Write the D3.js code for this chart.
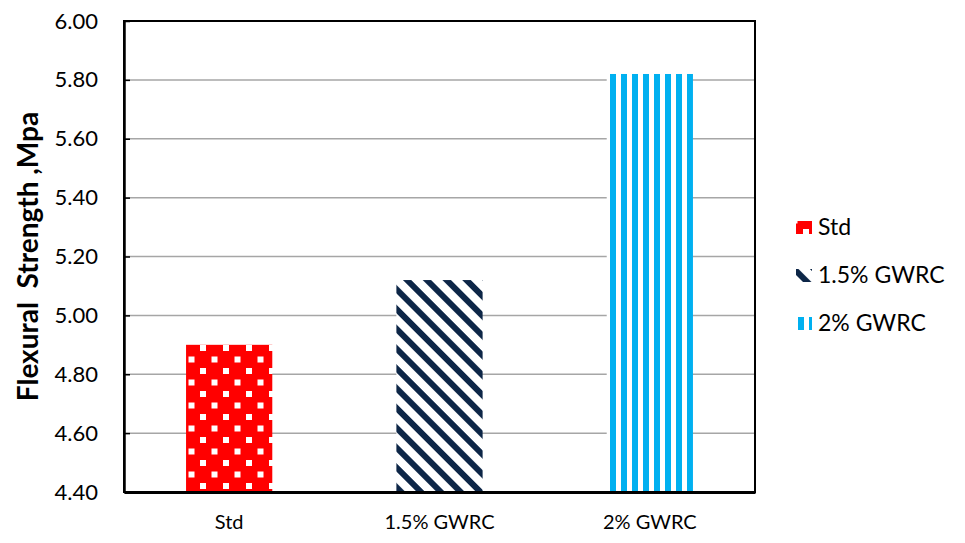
<!DOCTYPE html>
<html>
<head>
<meta charset="utf-8">
<script src="https://cdn.jsdelivr.net/npm/d3@7"></script>
<style>
  body { margin: 0; background: #fff; }
  svg { display: block; font-family: Lato, "Open Sans", sans-serif; }
</style>
</head>
<body>
<svg id="chart" width="965" height="543"></svg>
<script>
// Flexural strength of the three mixes
const categories = ["Std", "1.5% GWRC", "2% GWRC"];
const values = [4.90, 5.12, 5.82];
const tickValues = [4.40, 4.60, 4.80, 5.00, 5.20, 5.40, 5.60, 5.80, 6.00];
const yTitle = "Flexural  Strength ,Mpa";

const svg = d3.select("#chart");
const margin = { left: 124, right: 210, top: 21, bottom: 51 };
const W = 965, H = 543;
const innerW = W - margin.left - margin.right;
const innerH = H - margin.top - margin.bottom;

// fill patterns for each series
const defs = svg.append("defs");

// red with white dots
const pRed = defs.append("pattern").attr("id", "pat-std")
  .attr("patternUnits", "userSpaceOnUse").attr("width", 23).attr("height", 23)
  .attr("x", 0).attr("y", 0);
pRed.append("rect").attr("width", 23).attr("height", 23).attr("fill", "#ff0000");
pRed.append("rect").attr("x", 7).attr("y", 2).attr("width", 6).attr("height", 6).attr("fill", "#fff");
pRed.append("rect").attr("x", 18.5).attr("y", 13.5).attr("width", 6).attr("height", 6).attr("fill", "#fff");
pRed.append("rect").attr("x", -4.5).attr("y", 13.5).attr("width", 6).attr("height", 6).attr("fill", "#fff");

// navy downward diagonal stripes
const pNavy = defs.append("pattern").attr("id", "pat-15")
  .attr("patternUnits", "userSpaceOnUse").attr("width", 14).attr("height", 14)
  .attr("patternTransform", "rotate(-45)");
pNavy.append("rect").attr("width", 14).attr("height", 14).attr("fill", "#fff");
pNavy.append("rect").attr("x", 0).attr("y", 0).attr("width", 6).attr("height", 14).attr("fill", "#0d2647");

// light blue vertical stripes
const pBlue = defs.append("pattern").attr("id", "pat-2")
  .attr("patternUnits", "userSpaceOnUse").attr("width", 11).attr("height", 11)
  .attr("x", 607);
pBlue.append("rect").attr("width", 11).attr("height", 11).attr("fill", "#fff");
pBlue.append("rect").attr("x", 0).attr("width", 6).attr("height", 11).attr("fill", "#00b0f0");

const fills = ["url(#pat-std)", "url(#pat-15)", "url(#pat-2)"];

const g = svg.append("g").attr("transform", `translate(${margin.left},${margin.top})`);

const x = d3.scaleBand().domain(categories).range([0, innerW]).paddingInner(0.59).paddingOuter(0.295);
const y = d3.scaleLinear().domain([4.4, 6.0]).range([innerH, 0]);

// gridlines
g.append("g").selectAll("line").data(tickValues.slice(1, -1)).join("line")
  .attr("x1", 0).attr("x2", innerW)
  .attr("y1", d => y(d)).attr("y2", d => y(d))
  .attr("stroke", "#a6a6a6").attr("stroke-width", 1.5);

// bars
g.append("g").selectAll("rect").data(values).join("rect")
  .attr("x", (d, i) => x(categories[i]))
  .attr("y", d => y(d))
  .attr("width", x.bandwidth())
  .attr("height", d => innerH - y(d))
  .attr("fill", (d, i) => fills[i]);

// plot frame
g.append("rect").attr("x", 0).attr("y", 0).attr("width", innerW).attr("height", innerH)
  .attr("fill", "none").attr("stroke", "#000").attr("stroke-width", 2);

// y axis
const yAxis = g.append("g").call(
  d3.axisLeft(y).tickValues(tickValues).tickFormat(d3.format(".2f")).tickSizeInner(-6).tickSizeOuter(0).tickPadding(26)
);
yAxis.attr("font-size", null).attr("font-family", null);
yAxis.select(".domain").attr("stroke", "#000").attr("stroke-width", 2.5);
yAxis.selectAll(".tick line").attr("stroke", "#000").attr("stroke-width", 1.5);
yAxis.selectAll(".tick text").style("font-size", "22px").attr("fill", "#000")
  .style("font-family", "Lato, sans-serif");

// x axis
const xAxis = g.append("g").attr("transform", `translate(0,${innerH})`).call(
  d3.axisBottom(x).tickSize(0).tickPadding(23)
);
xAxis.attr("font-size", null).attr("font-family", null);
xAxis.select(".domain").attr("stroke", "#000").attr("stroke-width", 3);
xAxis.selectAll(".tick text").style("font-size", "20px").attr("fill", "#000")
  .style("font-family", "Lato, sans-serif");

// y axis title
svg.append("text")
  .attr("transform", `translate(38,${margin.top + innerH / 2}) rotate(-90)`)
  .attr("text-anchor", "middle")
  .style("font-size", "28px").attr("font-weight", "bold").attr("fill", "#000")
  .attr("xml:space", "preserve")
  .style("white-space", "pre")
  .text(yTitle);

// legend
const legend = svg.append("g").attr("transform", "translate(796,227)");
const rows = legend.selectAll("g").data(categories).join("g")
  .attr("transform", (d, i) => `translate(0,${i * 48})`);
rows.append("rect").attr("x", 0).attr("y", -6).attr("width", 16).attr("height", 13)
  .attr("fill", (d, i) => fills[i]);
rows.append("text").attr("x", 22).attr("y", 0).attr("dy", "0.35em")
  .style("font-size", "23px").attr("fill", "#000").text(d => d);
</script>
</body>
</html>
